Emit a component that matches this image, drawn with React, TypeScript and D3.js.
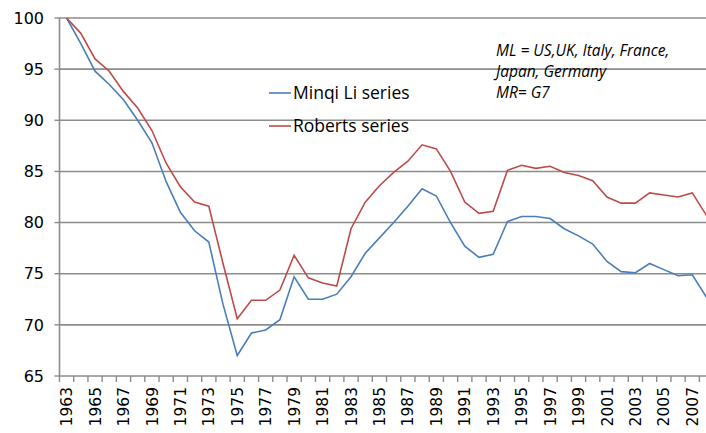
import * as d3 from 'd3';
import React from 'react';

// years on the category axis
const years: number[] = d3.range(1963, 2009);

// Minqi Li series (ML)
const minqiLi: number[] = [
  100, 97.5, 94.8, 93.5, 92, 90, 87.8, 84, 81, 79.2,
  78.1, 72, 67, 69.2, 69.5, 70.5, 74.7, 72.5, 72.5, 73,
  74.7, 77, 78.5, 80, 81.6, 83.3, 82.6, 80, 77.7, 76.6,
  76.9, 80.1, 80.6, 80.6, 80.4, 79.4, 78.7, 77.9, 76.2, 75.2,
  75.1, 76, 75.4, 74.8, 74.9, 72.7,
];

// Roberts series (MR)
const roberts: number[] = [
  100, 98.5, 96, 94.8, 92.8, 91.2, 89, 85.8, 83.5, 82,
  81.6, 76, 70.6, 72.4, 72.4, 73.4, 76.8, 74.6, 74.1, 73.8,
  79.4, 82, 83.6, 84.9, 86, 87.6, 87.2, 85, 82, 80.9,
  81.1, 85.1, 85.6, 85.3, 85.5, 84.9, 84.6, 84.1, 82.5, 81.9,
  81.9, 82.9, 82.7, 82.5, 82.9, 80.7,
];

const yTicks: number[] = [65, 70, 75, 80, 85, 90, 95, 100];
const legendNames: string[] = ['Minqi Li series', 'Roberts series'];
const noteLines: string[] = ['ML = US,UK, Italy, France,', 'Japan, Germany', 'MR= G7'];

const colors = ['#4a7ebb', '#be4b48'];

const width = 706;
const height = 433;
const left = 59.5;
const right = 713.6;
const top = 18;
const bottom = 376;

const App = () => {
  const x = d3.scaleBand<number>().domain(years).range([left, right]);
  const y = d3.scaleLinear().domain([65, 100]).range([bottom, top]);

  const cx = (yr: number) => (x(yr) as number) + x.bandwidth() / 2;
  const line = d3.line<number>((d, i) => cx(years[i]), (d) => y(d));

  const series = [minqiLi, roberts];
  const font = 'DejaVu Sans, Verdana, sans-serif';

  return (
    <svg
      width={width}
      height={height}
      style={{ position: 'absolute', left: 0, top: 0, background: '#fff' }}
    >
      {/* horizontal gridlines */}
      <g stroke="#8c8c8c" strokeWidth={1.6}>
        {yTicks.map((t) => (
          <line key={t} x1={left} x2={width} y1={y(t)} y2={y(t)} />
        ))}
      </g>

      {/* y axis */}
      <line x1={left} x2={left} y1={top} y2={bottom} stroke="#8c8c8c" strokeWidth={1.6} />
      <g stroke="#8c8c8c" strokeWidth={1.4}>
        {yTicks.map((t) => (
          <line key={t} x1={left - 5} x2={left} y1={y(t)} y2={y(t)} />
        ))}
      </g>
      <g fontFamily={font} fontSize={16} fill="#000" textAnchor="end">
        {yTicks.map((t) => (
          <text key={t} x={44} y={y(t)} dy="0.36em">
            {t}
          </text>
        ))}
      </g>

      {/* x ticks on category boundaries */}
      <g stroke="#8c8c8c" strokeWidth={1.4}>
        {years.map((yr) => (
          <line key={yr} x1={x(yr)} x2={x(yr)} y1={bottom} y2={bottom + 6} />
        ))}
      </g>
      <g fontFamily={font} fontSize={15.5} fill="#000" textAnchor="end">
        {years
          .filter((yr, i) => i % 2 === 0)
          .map((yr) => (
            <text
              key={yr}
              transform={`translate(${cx(yr)},${bottom + 11}) rotate(-90)`}
              dy="0.36em"
            >
              {yr}
            </text>
          ))}
      </g>

      {/* series lines */}
      {series.map((s, i) => (
        <path key={i} d={line(s) ?? ''} fill="none" stroke={colors[i]} strokeWidth={1.6} />
      ))}

      {/* legend */}
      <g fontFamily="Open Sans, sans-serif" fontSize={17.5} fill="#000">
        {legendNames.map((name, i) => (
          <g key={name} transform={`translate(269,${93 + i * 33})`}>
            <line x1={0} x2={22} y1={0} y2={0} stroke={colors[i]} strokeWidth={1.6} />
            <text x={24} y={0} dy="0.36em">
              {name}
            </text>
          </g>
        ))}
      </g>

      {/* note */}
      <g fontFamily="Open Sans, sans-serif" fontSize={15.5} fontStyle="italic" fill="#000">
        {noteLines.map((t, i) => (
          <text key={t} x={496} y={50 + i * 21} dy="0.36em">
            {t}
          </text>
        ))}
      </g>
    </svg>
  );
};

export default App;
